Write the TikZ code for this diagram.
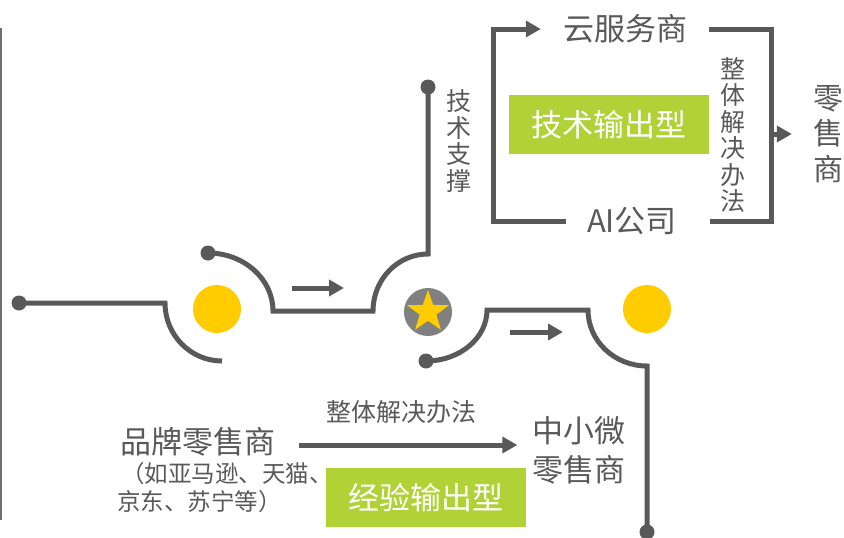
\documentclass[tikz,border=0pt]{standalone}
\usepackage{fontspec}
\setmainfont{Noto Sans CJK SC}
\usepackage{xcolor}
\usepackage{tikz}
\usetikzlibrary{arrows.meta}
\usetikzlibrary{shapes.geometric}
\definecolor{wiregray}{HTML}{595959}
\definecolor{edgegray}{HTML}{6E6E6E}
\definecolor{stargray}{HTML}{808080}
\definecolor{sunyellow}{HTML}{FFCC00}
\definecolor{leafgreen}{HTML}{B0D236}
\tikzset{
	wire/.style={draw=wiregray, line width=5pt},
	wirearrow/.style={wire, -{Triangle[length=15pt,width=16pt]}},
	pin/.style={circle, fill=wiregray, inner sep=0pt, minimum size=15pt},
	sun/.style={circle, fill=sunyellow, inner sep=0pt, minimum size=48pt},
	txt/.style={text=wiregray, inner sep=0pt, font=\fontsize{31}{36}\selectfont},
	vtxt/.style={txt, align=center, font=\fontsize{25}{26.5}\selectfont},
	tag/.style={fill=leafgreen, text=white, inner sep=0pt, minimum width=200pt, minimum height=59pt, font=\fontsize{31}{36}\selectfont}
}

\begin{document}
\begin{tikzpicture}[x=1pt, y=-1pt]
	\useasboundingbox (0,0) rectangle (844,538);
	\draw[edgegray, line width=1.5pt] (1,28) -- (1,520);

	% pins and lamps
	\node[pin] (inL) at (19,303) {};
	\node[pin] (inU) at (208,253) {};
	\node[pin] (techtop) at (428,87) {};
	\node[pin] (inD) at (426,361) {};
	\node[pin] (outD) at (647,532) {};
	\node[sun] (lampL) at (217,309) {};
	\node[sun] (lampR) at (647,309) {};
	\node[circle, fill=stargray, inner sep=0pt, minimum size=48pt] (core) at (428,312) {};
	\node[star, star points=5, star point ratio=2.5, fill=sunyellow, inner sep=0pt, minimum size=44pt] at (core) {};

	% wires
	\draw[wire] (inL.center) -- (165,303) arc[start angle=180, end angle=90, x radius=57, y radius=58];
	\draw[wire] (inU.center) arc[start angle=270, end angle=360, x radius=65, y radius=58] -- (373,311)
		arc[start angle=180, end angle=270, x radius=55, y radius=57] -- (techtop.center);
	\draw[wire] (inD.center) arc[start angle=90, end angle=0, x radius=61, y radius=51] -- (588,310)
		arc[start angle=180, end angle=90, x radius=59, y radius=56] -- (outD.center);
	\draw[wirearrow] (292,288) -- (344,288);
	\draw[wirearrow] (510,332) -- (563,332);

	% technology output
	\node[vtxt] (support) at (459,141) {技\\术\\支\\撑};
	\node[txt, inner xsep=22pt] (cloud) at (625,29) {云服务商};
	\node[txt, inner xsep=21pt] (aico) at (632,221) {AI公司};
	\node[tag] (techtype) at (609,124.5) {技术输出型};
	\node[vtxt] (solution) at (733,135) {整\\体\\解\\决\\办\\法};
	\node[txt, align=center, inner xsep=21pt, font=\fontsize{30}{35.5}\selectfont] (retail) at (828,134) {零\\售\\商};
	\coordinate (lb) at (493,29);
	\coordinate (rb) at (771,134);
	\draw[wirearrow] (aico.west) -| (lb) -- (cloud.west);
	\draw[wire] (cloud.east) -| (rb) |- ([xshift=12pt]aico.east);
	\draw[wirearrow] (rb) -- (retail.west);

	% experience output
	\node[txt, inner xsep=23pt] (brand) at (198,442) {品牌零售商};
	\node[txt, anchor=north west, align=left, font=\fontsize{23.5}{28}\selectfont] (brandeg) at (117,462) {\hspace{4pt}（如亚马逊、天猫、\\京东、苏宁等）};
	\node[txt, align=center, inner xsep=15pt, font=\fontsize{31}{39}\selectfont] (smb) at (579,450) {中小微\\零售商};
	\node[txt, font=\fontsize{25}{28}\selectfont] (howto) at (401,412) {整体解决办法};
	\node[tag] (exptype) at (425.5,497.5) {经验输出型};
	\coordinate (mid) at (0,445);
	\draw[wirearrow] (brand.east |- mid) -- (smb.west |- mid);
\end{tikzpicture}
\end{document}
